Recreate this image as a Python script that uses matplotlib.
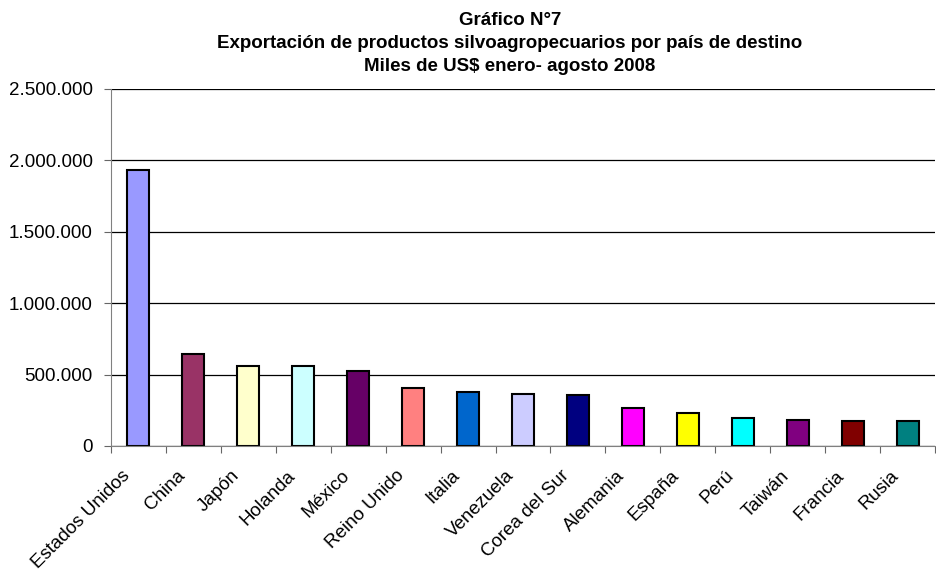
# Gráfico N°7 - exportación silvoagropecuaria por país de destino
import numpy as np
import matplotlib.pyplot as plt
import matplotlib.transforms as mtransforms
from matplotlib.ticker import FuncFormatter

plt.rcParams['font.family'] = ['Liberation Sans', 'DejaVu Sans']

# data (miles de US$, enero-agosto 2008)
paises = ["Estados Unidos", "China", "Japón", "Holanda", "México", "Reino Unido",
          "Italia", "Venezuela", "Corea del Sur", "Alemania", "España", "Perú",
          "Taiwán", "Francia", "Rusia"]
valores = [1932000, 641000, 559000, 558000, 524000, 407000, 379000, 365000,
           360000, 264000, 229000, 196000, 180000, 175000, 174000]
colores = ["#9999FF", "#993366", "#FFFFCC", "#CCFFFF", "#660066", "#FF8080",
           "#0066CC", "#CCCCFF", "#000080", "#FF00FF", "#FFFF00", "#00FFFF",
           "#800080", "#800000", "#008080"]
titulos = ["Gráfico N°7",
           "Exportación de productos silvoagropecuarios por país de destino",
           "Miles de US$ enero- agosto 2008"]

fig = plt.figure(figsize=(9.36, 5.72), dpi=100)
ax = fig.add_axes([111/936, 1-446/572, 824/936, (446-89)/572])

x = np.arange(len(paises))
ax.bar(x, valores, width=0.4, color=colores, edgecolor='black', linewidth=1.5, zorder=3)

ax.set_xlim(-0.5, len(paises) - 0.5)
ax.set_ylim(0, 2500000)
ax.set_yticks(np.arange(0, 2500001, 500000))
ax.yaxis.set_major_formatter(FuncFormatter(lambda v, p: f"{int(v):,}".replace(",", ".")))
ax.grid(axis='y', color='black', linewidth=0.9, zorder=0)

# category ticks between bars, labels centered under bars
ax.set_xticks(np.arange(len(paises) + 1) - 0.5)
ax.set_xticklabels([])
ax.set_xticks(x, minor=True)
ax.set_xticklabels(paises, minor=True, rotation=45, ha='right', va='center',
                   rotation_mode='anchor', fontsize=13.5)
ax.tick_params(axis='x', which='minor', length=0, pad=19.5)
ax.tick_params(axis='x', which='major', length=5, color='#666666')
ax.tick_params(axis='y', length=5, color='#666666', labelsize=13.5, pad=8)

shift = mtransforms.ScaledTranslation(-11/100, 0, fig.dpi_scale_trans)
for lab in ax.get_xticklabels(minor=True):
    lab.set_transform(lab.get_transform() + shift)

for s in ['top', 'right']:
    ax.spines[s].set_visible(False)
for s in ['left', 'bottom']:
    ax.spines[s].set_color('#808080')
    ax.spines[s].set_zorder(4)

for i, t in enumerate(titulos):
    fig.text(510/936, 1-(20.5 + 23*i)/572, t, ha='center', va='center',
             fontsize=13.5, fontweight='bold')

plt.savefig("out.png", dpi=100)
